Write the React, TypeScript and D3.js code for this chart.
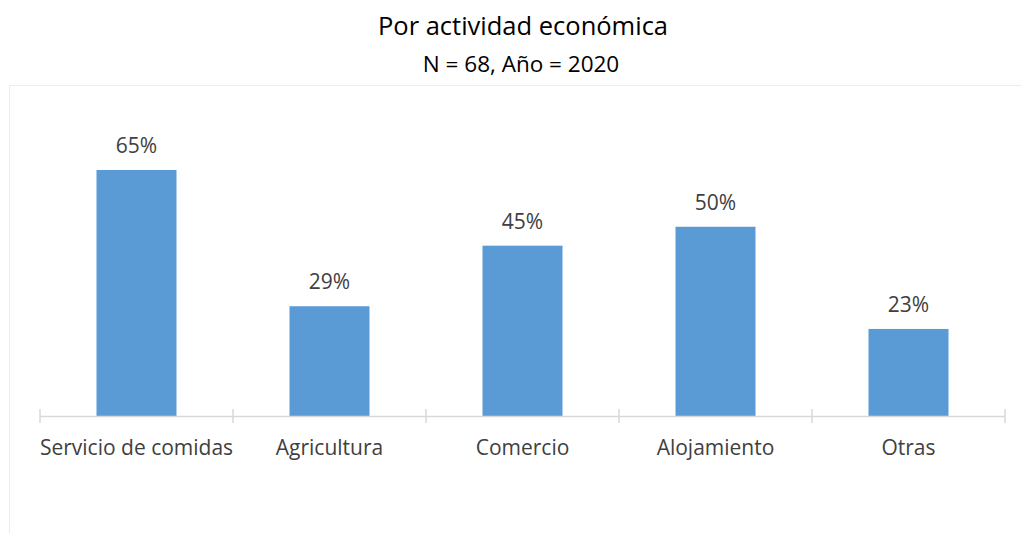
import * as d3 from "d3";
import { useRef, useEffect } from "react";

// chart data
const categories = ["Servicio de comidas", "Agricultura", "Comercio", "Alojamiento", "Otras"];
const shares = [0.65, 0.29, 0.45, 0.5, 0.23];
const title = "Por actividad económica";
const subtitle = "N = 68, Año = 2020";

export default function App() {
  const svgRef = useRef<SVGSVGElement>(null);

  useEffect(() => {
    const svg = d3.select(svgRef.current);
    svg.selectAll("*").remove();

    const font = "'Open Sans', sans-serif";
    const baseY = 416;

    // light frame of the plot area (runs off the right and bottom)
    svg.append("rect").attr("x", 9.5).attr("y", 85.5).attr("width", 1040).attr("height", 500)
      .attr("fill", "none").attr("stroke", "#ececec").attr("stroke-width", 1);

    svg.append("text").attr("x", 523).attr("y", 35).attr("text-anchor", "middle")
      .attr("font-family", font).attr("font-size", 25.5).attr("fill", "#000").text(title);
    svg.append("text").attr("x", 521).attr("y", 72).attr("text-anchor", "middle")
      .attr("font-family", font).attr("font-size", 22.5).attr("fill", "#000").text(subtitle);

    // category bands between the cross ticks
    const band = d3.scaleBand().domain(categories).range([40, 1005]);
    const y = d3.scaleLinear().domain([0, 0.7]).range([baseY, baseY - 0.7 * 378.5]);

    const data = categories.map((c, i) => ({ c, v: shares[i] }));

    svg.append("g").selectAll("rect").data(data).enter().append("rect")
      .attr("x", d => band(d.c)! + band.bandwidth() / 2 - 40)
      .attr("width", 80)
      .attr("y", d => y(d.v))
      .attr("height", d => baseY - y(d.v))
      .attr("fill", "#5b9bd5");

    // axis line with cross ticks at category boundaries
    svg.append("line").attr("x1", 40).attr("x2", 1005).attr("y1", baseY + 0.5).attr("y2", baseY + 0.5)
      .attr("stroke", "#d9d9d9").attr("stroke-width", 1.5);
    const bounds = categories.map(c => band(c)!).concat([1005]);
    svg.append("g").selectAll("line").data(bounds).enter().append("line")
      .attr("x1", d => d).attr("x2", d => d).attr("y1", baseY - 7).attr("y2", baseY + 7)
      .attr("stroke", "#d9d9d9").attr("stroke-width", 1.5);

    // value labels
    svg.append("g").selectAll("text").data(data).enter().append("text")
      .attr("x", d => band(d.c)! + band.bandwidth() / 2)
      .attr("y", d => y(d.v) - 17)
      .attr("text-anchor", "middle").attr("font-family", font).attr("font-size", 21)
      .attr("fill", "#404040").text(d => d3.format(".0%")(d.v));

    // category labels
    svg.append("g").selectAll("text").data(categories).enter().append("text")
      .attr("x", d => band(d)! + band.bandwidth() / 2)
      .attr("y", 455)
      .attr("text-anchor", "middle").attr("font-family", font).attr("font-size", 21)
      .attr("fill", "#404040").text(d => d);
  }, []);

  return (
    <svg ref={svgRef} width={1021} height={533}
      style={{ position: "absolute", left: 0, top: 0, background: "#fff" }} />
  );
}
